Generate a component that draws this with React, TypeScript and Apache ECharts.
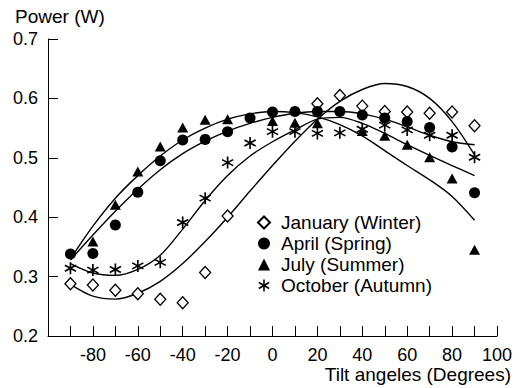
import React, { useEffect, useRef } from "react";
import * as echarts from "echarts";

const angles = [-90, -80, -70, -60, -50, -40, -30, -20, -10, 0, 10, 20, 30, 40, 50, 60, 70, 80, 90];

const january = [0.288, 0.286, 0.277, 0.271, 0.262, 0.256, 0.307, 0.402, null, null, null, 0.591, 0.605, 0.587, 0.578, 0.577, 0.575, 0.577, 0.554];
const april = [0.338, 0.339, 0.387, 0.442, 0.495, 0.53, 0.531, 0.544, 0.567, 0.577, 0.578, 0.578, 0.578, 0.572, 0.567, 0.561, 0.551, 0.518, 0.441];
const july = [null, 0.359, 0.421, 0.477, 0.519, 0.551, 0.564, 0.565, null, 0.562, 0.559, 0.558, null, 0.545, 0.537, 0.522, 0.501, 0.465, 0.345];
const october = [0.314, 0.311, 0.312, 0.318, 0.324, 0.391, 0.432, 0.492, 0.525, 0.544, 0.544, 0.541, 0.542, 0.548, 0.555, 0.547, 0.538, 0.538, 0.501];

// trend curves
const januaryFit = [0.287, 0.267, 0.262, 0.272, 0.292, 0.322, 0.359, 0.4, 0.444, 0.487, 0.528, 0.565, 0.595, 0.615, 0.625, 0.62, 0.6, 0.561, 0.505];
const aprilFit = [0.328, 0.37, 0.41, 0.447, 0.48, 0.507, 0.528, 0.545, 0.558, 0.568, 0.575, 0.578, 0.578, 0.574, 0.565, 0.552, 0.538, 0.527, 0.522];
const julyFit = [0.33, 0.385, 0.432, 0.47, 0.503, 0.53, 0.55, 0.565, 0.574, 0.578, 0.576, 0.569, 0.556, 0.537, 0.512, 0.487, 0.463, 0.435, 0.395];
const octoberFit = [0.322, 0.306, 0.302, 0.312, 0.336, 0.38, 0.428, 0.47, 0.503, 0.527, 0.547, 0.565, 0.568, 0.558, 0.541, 0.522, 0.504, 0.487, 0.47];

const seriesNames = ["January (Winter)", "April (Spring)", "July (Summer)", "October (Autumn)"];
const yAxisTitle = "Power (W)";
const xAxisTitle = "Tilt angeles (Degrees)";

const FONT = '"Liberation Sans", Arial, Helvetica, sans-serif';
const AST =
  "path://M-1.3,-10L1.3,-10L1.3,10L-1.3,10Z M-8.01,6.126L-9.31,3.874L8.01,-6.126L9.31,-3.874Z M-9.31,-3.874L-8.01,-6.126L9.31,3.874L8.01,6.126Z";

const pairs = (vals: (number | null)[]) => angles.map((a, i) => [a, vals[i]]).filter((p) => p[1] !== null);

export default function App() {
  const ref = useRef<HTMLDivElement>(null);
  useEffect(() => {
    if (!ref.current) return;
    const chart = echarts.init(ref.current, null, { renderer: "svg" });
    const fitLine = (vals: number[]) => ({
      type: "line",
      data: pairs(vals),
      smooth: 0.3,
      showSymbol: false,
      silent: true,
      z: 1,
      lineStyle: { color: "#000", width: 1.4 },
    });
    chart.setOption({
      animation: false,
      backgroundColor: "#fff",
      grid: { left: 48, right: 24, top: 39, bottom: 52 },
      xAxis: {
        type: "value",
        min: -100,
        max: 100,
        interval: 10,
        axisLine: { show: true, onZero: false, lineStyle: { color: "#000", width: 1 } },
        axisTick: { show: true, inside: true, length: 10, lineStyle: { color: "#000" } },
        splitLine: { show: false },
        axisLabel: {
          color: "#000",
          fontSize: 18,
          fontFamily: FONT,
          margin: 10,
          formatter: (v: number) => (v % 20 === 0 && v !== -100 ? String(v) : ""),
        },
      },
      yAxis: {
        type: "value",
        min: 0.2,
        max: 0.7,
        interval: 0.1,
        axisLine: { show: true, onZero: false, lineStyle: { color: "#000", width: 1 } },
        axisTick: { show: true, inside: true, length: 10, lineStyle: { color: "#000" } },
        splitLine: { show: false },
        axisLabel: {
          color: "#000",
          fontSize: 18,
          fontFamily: FONT,
          margin: 10,
          formatter: (v: number) => v.toFixed(1),
        },
      },
      legend: {
        data: seriesNames,
        orient: "vertical",
        left: 257,
        top: 213,
        padding: 0,
        itemWidth: 12,
        itemHeight: 12,
        itemGap: 2,
        textStyle: { color: "#000", fontSize: 19, fontFamily: FONT, lineHeight: 19, padding: [0, 0, 0, 6] },
      },
      graphic: [
        {
          type: "text",
          x: 15,
          y: 16,
          style: { text: yAxisTitle, fill: "#000", fontSize: 19, fontFamily: FONT, align: "left", verticalAlign: "middle" },
        },
        {
          type: "text",
          x: 511,
          y: 374,
          style: { text: xAxisTitle, fill: "#000", fontSize: 19, fontFamily: FONT, align: "right", verticalAlign: "middle" },
        },
      ],
      series: [
        fitLine(januaryFit),
        fitLine(aprilFit),
        fitLine(julyFit),
        fitLine(octoberFit),
        {
          name: seriesNames[0],
          type: "scatter",
          data: pairs(january),
          symbol: "diamond",
          symbolSize: [11, 12],
          z: 3,
          itemStyle: { color: "#fff", borderColor: "#000", borderWidth: 1.3, opacity: 1 },
        },
        {
          name: seriesNames[1],
          type: "scatter",
          data: pairs(april),
          symbol: "circle",
          symbolSize: 11,
          z: 3,
          itemStyle: { color: "#000", opacity: 1 },
        },
        {
          name: seriesNames[2],
          type: "scatter",
          data: pairs(july),
          symbol: "triangle",
          symbolSize: [11, 10],
          z: 3,
          itemStyle: { color: "#000", opacity: 1 },
        },
        {
          name: seriesNames[3],
          type: "scatter",
          data: pairs(october),
          symbol: AST,
          symbolSize: 12,
          z: 3,
          itemStyle: { color: "#000", opacity: 1 },
        },
      ],
    });
    return () => chart.dispose();
  }, []);
  return <div ref={ref} style={{ position: "fixed", left: 0, top: 0, width: 521, height: 388 }} />;
}
